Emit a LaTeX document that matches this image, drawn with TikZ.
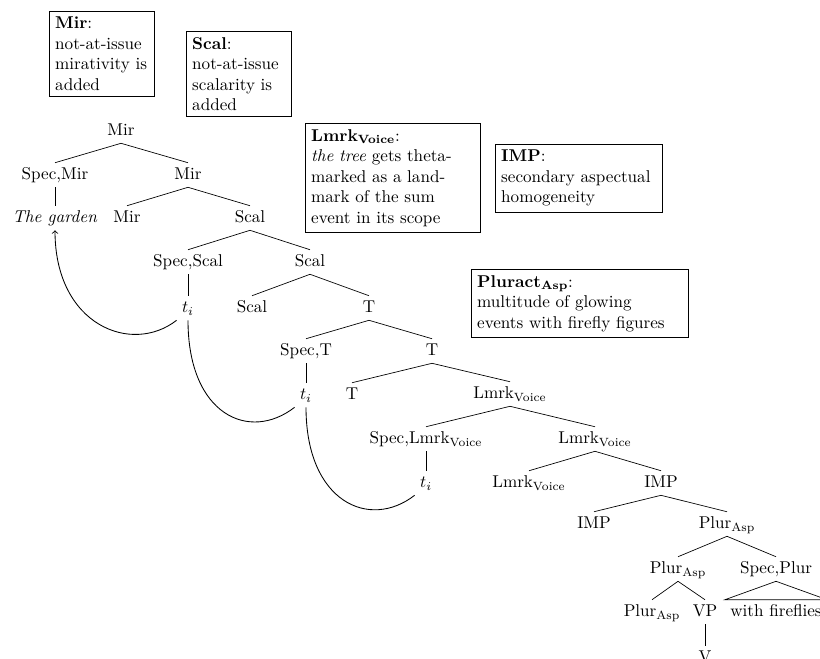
\documentclass[tikz,border=0pt]{standalone}
\usepackage{amsmath}
\tikzset{every picture/.style={line width=0.4pt}}
\tikzset{
  cat/.style={inner sep=3pt, text height=1.6ex, text depth=0.25ex},
  notebox/.style={draw, line width=0.6pt, anchor=north west, align=left, inner sep=3.33pt},
  movement/.style={line width=0.5pt}
}

\begin{document}
\begin{tikzpicture}[x=0.585pt,y=0.585pt,yscale=-1,xscale=1]
\useasboundingbox (0,0) rectangle (820,658);

% Text Node
\node [notebox, text width=55pt] (mirbox) at (49,11) {\textbf{Mir}:\\not-at-issue\\mirativity is\\added};
% Text Node
\node [notebox, text width=55pt] (scalbox) at (186,31) {\textbf{Scal}:\\not-at-issue\\scalarity is\\added};
% Text Node
\node [notebox, text width=95.5pt] (lmrkbox) at (305,123) {\textbf{Lmrk$_{\text{Voice}}$}:\\\textit{the tree} gets theta-\\marked as a land-\\mark of the sum\\event in its scope};
% Text Node
\node [notebox, text width=91pt] (impbox) at (495,144) {\textbf{IMP}:\\secondary aspectual\\homogeneity};
% Text Node
\node [notebox, text width=120pt] (pluractbox) at (471,269) {\textbf{Pluract$_{\text{Asp}}$}:\\multitude of glowing\\events with firefly figures};

% Tree Nodes
\node [cat] (mirP) at (121,131) {Mir};
\node [cat] (specmir) at (55,175) {Spec,Mir};
\node [cat] (mirbar) at (188,175) {Mir};
\node [cat] (garden) at (55,218) {\textit{The garden}};
\node [cat] (mirhead) at (127,218) {Mir};
\node [cat] (scalP) at (250,218) {Scal};
\node [cat] (specscal) at (188,262) {Spec,Scal};
\node [cat] (scalbar) at (310,262) {Scal};
\node [cat] (tA) at (188,308) {$t_i$};
\node [cat] (scalhead) at (252,308) {Scal};
\node [cat] (tP) at (369,308) {T};
\node [cat] (specT) at (306,351) {Spec,T};
\node [cat] (tbar) at (432,351) {T};
\node [cat] (tB) at (306,395) {$t_i$};
\node [cat] (thead) at (352,395) {T};
\node [cat] (lmrkP) at (510,394) {Lmrk$_{\text{Voice}}$};
\node [cat] (speclmrk) at (426,439) {Spec,Lmrk$_{\text{Voice}}$};
\node [cat] (lmrkbar) at (595,439) {Lmrk$_{\text{Voice}}$};
\node [cat] (tC) at (426,483) {$t_i$};
\node [cat] (lmrkhead) at (529,483) {Lmrk$_{\text{Voice}}$};
\node [cat] (impP) at (661,483) {IMP};
\node [cat] (imphead) at (594,524) {IMP};
\node [cat] (plurP) at (727,524) {Plur$_{\text{Asp}}$};
\node [cat] (plurbar) at (678,569) {Plur$_{\text{Asp}}$};
\node [cat] (specplur) at (776,569) {Spec,Plur};
\node [cat] (plurhead) at (652,612) {Plur$_{\text{Asp}}$};
\node [cat] (vp) at (705,612) {VP};
\node [cat] (ff) at (776,612) {with fireflies};
\node [cat] (v) at (705,658) {V};

%Straight Lines
\draw (mirP.south) -- (specmir.north);
\draw (mirP.south) -- (mirbar.north);
\draw (specmir.south) -- (garden.north);
\draw (mirbar.south) -- (mirhead.north);
\draw (mirbar.south) -- (scalP.north);
\draw (scalP.south) -- (specscal.north);
\draw (scalP.south) -- (scalbar.north);
\draw (specscal.south) -- (tA.north);
\draw (scalbar.south) -- (scalhead.north);
\draw (scalbar.south) -- (tP.north);
\draw (tP.south) -- (specT.north);
\draw (tP.south) -- (tbar.north);
\draw (specT.south) -- (tB.north);
\draw (tbar.south) -- (thead.north);
\draw (tbar.south) -- (lmrkP.north);
\draw (lmrkP.south) -- (speclmrk.north);
\draw (lmrkP.south) -- (lmrkbar.north);
\draw (speclmrk.south) -- (tC.north);
\draw (lmrkbar.south) -- (lmrkhead.north);
\draw (lmrkbar.south) -- (impP.north);
\draw (impP.south) -- (imphead.north);
\draw (impP.south) -- (plurP.north);
\draw (plurP.south) -- (plurbar.north);
\draw (plurP.south) -- (specplur.north);
\draw (plurbar.south) -- (plurhead.north);
\draw (plurbar.south) -- (vp.north);
\draw (vp.south) -- (v.north);
%Triangle
\draw (specplur.south) -- (ff.north west) -- (ff.north east) -- cycle;

%Curve Lines
\draw [movement, ->] (tA.south west) .. controls +(-45,35) and +(0,95) .. (garden.south);
\draw [movement] (tB.south west) .. controls +(-45,35) and +(0,95) .. (tA.south);
\draw [movement] (tC.south west) .. controls +(-45,35) and +(0,95) .. (tB.south);

\end{tikzpicture}
\end{document}
